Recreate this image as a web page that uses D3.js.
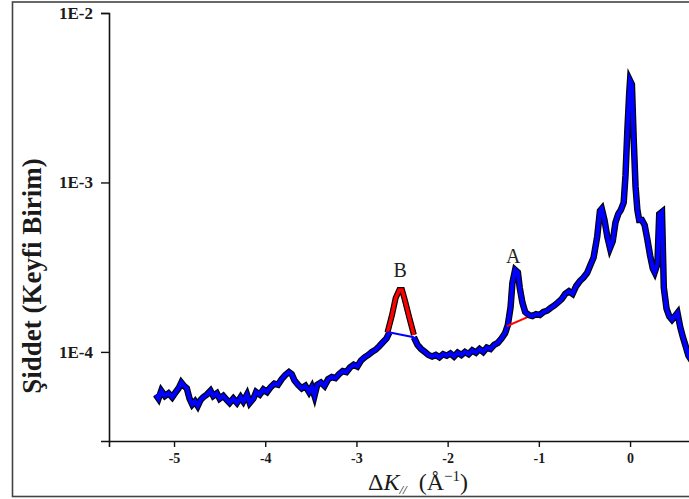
<!DOCTYPE html>
<html><head><meta charset="utf-8">
<script src="https://cdn.jsdelivr.net/npm/d3@7/dist/d3.min.js"></script>
<style>html,body{margin:0;padding:0;background:#fff;}svg{display:block;}</style>
</head><body>
<svg id="c" width="689" height="499"></svg>
<script>
// ---- data ----
const mainK = [-5.20,-5.17,-5.14,-5.10,-5.06,-5.02,-4.98,-4.95,-4.92,-4.89,-4.86,-4.83,-4.80,-4.77,-4.74,-4.71,-4.68,-4.64,-4.60,-4.57,-4.53,-4.50,-4.46,-4.42,-4.39,-4.35,-4.31,-4.27,-4.24,-4.20,-4.17,-4.13,-4.10,-4.06,-4.02,-3.98,-3.94,-3.90,-3.86,-3.82,-3.78,-3.74,-3.71,-3.68,-3.64,-3.60,-3.56,-3.52,-3.49,-3.46,-3.43,-3.39,-3.35,-3.31,-3.27,-3.23,-3.19,-3.15,-3.11,-3.07,-3.03,-2.99,-2.95,-2.91,-2.87,-2.83,-2.79,-2.75,-2.71,-2.67,-2.64,
  -2.50,
  -2.37,-2.33,-2.29,-2.25,-2.21,-2.17,-2.13,-2.09,-2.05,-2.01,-1.97,-1.93,-1.89,-1.85,-1.81,-1.77,-1.73,-1.69,-1.65,-1.61,-1.57,-1.53,-1.49,-1.45,-1.41,-1.37,-1.34,-1.31,-1.29,-1.26,-1.23,-1.21,-1.18,-1.15,-1.11,-1.07,-1.03,-0.99,-0.95,-0.91,-0.87,-0.83,-0.79,-0.75,-0.71,-0.67,-0.63,-0.59,-0.55,-0.51,-0.47,-0.43,-0.40,-0.36,-0.33,-0.31,-0.28,-0.25,-0.22,-0.19,-0.16,-0.13,-0.10,-0.07,-0.05,-0.03,-0.01,0.00,0.02,0.04,0.06,0.08,0.10,0.13,0.16,0.19,0.22,0.25,0.27,0.30,0.32,0.35,0.37,0.40,0.43,0.46,0.49,0.52,0.55,0.58,0.61,0.64,0.68];
const mainI = [5.6e-5,5.3e-5,5.9e-5,5.5e-5,5.7e-5,5.4e-5,5.8e-5,6.1e-5,6.6e-5,6.3e-5,6.1e-5,5.3e-5,4.9e-5,5.1e-5,4.8e-5,5.2e-5,5.4e-5,5.6e-5,5.9e-5,5.5e-5,5.7e-5,5.3e-5,5.5e-5,5.2e-5,5.0e-5,5.3e-5,5.0e-5,5.4e-5,5.1e-5,5.6e-5,5.0e-5,5.3e-5,5.8e-5,5.6e-5,6.0e-5,5.8e-5,6.2e-5,6.5e-5,6.4e-5,6.9e-5,7.3e-5,7.6e-5,7.4e-5,6.8e-5,6.4e-5,6.1e-5,6.3e-5,5.8e-5,6.2e-5,5.5e-5,6.4e-5,6.6e-5,6.3e-5,6.9e-5,7.1e-5,7.0e-5,7.4e-5,7.7e-5,7.6e-5,8.1e-5,8.4e-5,8.2e-5,8.9e-5,9.3e-5,9.6e-5,1.0e-4,1.03e-4,1.08e-4,1.14e-4,1.2e-4,1.3e-4,
  null,
  1.22e-4,1.1e-4,1.04e-4,1.0e-4,9.6e-5,9.4e-5,9.6e-5,9.3e-5,9.7e-5,9.5e-5,9.8e-5,9.4e-5,9.9e-5,9.6e-5,1.0e-4,9.7e-5,1.02e-4,9.9e-5,1.04e-4,1.0e-4,1.06e-4,1.04e-4,1.1e-4,1.13e-4,1.2e-4,1.29e-4,1.44e-4,1.84e-4,2.55e-4,3.05e-4,2.95e-4,2.4e-4,1.95e-4,1.72e-4,1.65e-4,1.63e-4,1.67e-4,1.65e-4,1.72e-4,1.75e-4,1.82e-4,1.88e-4,1.96e-4,2.05e-4,2.2e-4,2.28e-4,2.2e-4,2.45e-4,2.62e-4,2.75e-4,2.93e-4,3.3e-4,3.6e-4,4.8e-4,6.8e-4,7.0e-4,6.0e-4,4.8e-4,4.1e-4,4.5e-4,5.8e-4,6.5e-4,6.9e-4,7.6e-4,1.1e-3,2.0e-3,3.3e-3,4.0e-3,3.8e-3,1.8e-3,9.5e-4,6.9e-4,6.0e-4,6.0e-4,5.6e-4,4.6e-4,3.7e-4,3.1e-4,2.95e-4,3.3e-4,6.5e-4,6.7e-4,2.4e-4,1.8e-4,1.62e-4,1.55e-4,1.62e-4,1.7e-4,1.4e-4,1.22e-4,1.08e-4,9.5e-5,8.8e-5];
const peakBK = [-2.66,-2.61,-2.57,-2.53,-2.50,-2.47,-2.42,-2.37];
const peakBI = [1.3e-4,1.65e-4,2.08e-4,2.32e-4,2.32e-4,2.03e-4,1.59e-4,1.26e-4];
const baseBK = [-2.66,-2.37];
const baseBI = [1.31e-4,1.22e-4];
const baseAK = [-1.35,-1.13];
const baseAI = [1.42e-4,1.6e-4];
const peakLabels = ["B","A"];
const peakLabelK = [-2.52,-1.28];
const peakLabelI = [2.75e-4,3.35e-4];
const xTicks = [-5,-4,-3,-2,-1,0];
const yTicks = [1e-2,1e-3,1e-4];
const yTickLabels = ["1E-2","1E-3","1E-4"];

// ---- chart ----
const svg = d3.select("#c");
const serif = "'Liberation Serif','Times New Roman',serif";

svg.append("rect").attr("x",12.5).attr("y",2).attr("width",700).attr("height",494.5)
  .attr("fill","none").attr("stroke","#444").attr("stroke-width",1.6);

const x = d3.scaleLinear().domain([-5.713,0.7]).range([109,693.9]);
const y = d3.scaleLog().domain([2.98e-5,1e-2]).range([441,13]);

// minor ticks
const yMinor = [];
[1e-5,1e-4,1e-3].forEach(d=>{for(let m=2;m<=9;m++){const v=m*d; if(v>=2.98e-5 && v<1e-2) yMinor.push(v);}});
const xMinor = d3.range(-5.5,0.8,1);

const axY = svg.append("g").attr("transform","translate(109,0)");
axY.call(d3.axisLeft(y).tickValues(yMinor).tickSize(4).tickFormat(""));
axY.call(d3.axisLeft(y).tickValues(yTicks).tickSize(8).tickFormat((d,i)=>yTickLabels[i]).tickPadding(8));
axY.selectAll(".domain").attr("stroke","#111").attr("stroke-width",1.6);
axY.selectAll("line").attr("stroke","#111").attr("stroke-width",1.4);
axY.selectAll("text").style("font-family",serif).style("font-weight","bold").style("font-size","17px").attr("fill","#1a1a1a");

const axX = svg.append("g").attr("transform","translate(0,441)");
axX.call(d3.axisBottom(x).tickValues(xMinor).tickSize(4).tickFormat(""));
axX.call(d3.axisBottom(x).tickValues(xTicks).tickSize(6).tickFormat(d=>String(d)).tickPadding(6));
axX.selectAll(".domain").attr("stroke","#111").attr("stroke-width",1.6);
axX.selectAll("line").attr("stroke","#111").attr("stroke-width",1.4);
axX.selectAll("text").style("font-family",serif).style("font-weight","bold").style("font-size","14px").attr("fill","#1a1a1a");

// data
const mainData = mainK.map((k,i)=>({k, v: mainI[i]}));
const line = d3.line().defined(d=>d.v!=null).x(d=>x(d.k)).y(d=>y(d.v));
const pb = peakBK.map((k,i)=>({k,v:peakBI[i]}));
const bb = baseBK.map((k,i)=>({k,v:baseBI[i]}));
const ba = baseAK.map((k,i)=>({k,v:baseAI[i]}));

const g = svg.append("g");
g.append("path").datum(mainData).attr("d",line).attr("fill","none").attr("stroke","#000").attr("stroke-width",6.5).attr("stroke-linejoin","miter");
g.append("path").datum(pb).attr("d",line).attr("fill","none").attr("stroke","#000").attr("stroke-width",6);
g.append("path").datum(mainData).attr("d",line).attr("fill","none").attr("stroke","#0000ff").attr("stroke-width",4.2).attr("stroke-linejoin","miter");
g.append("path").datum(pb).attr("d",line).attr("fill","none").attr("stroke","#ff0000").attr("stroke-width",3.6);
g.append("path").datum(bb).attr("d",line).attr("fill","none").attr("stroke","#0000ff").attr("stroke-width",2);
g.append("path").datum(ba).attr("d",line).attr("fill","none").attr("stroke","#ff0000").attr("stroke-width",2);

// peak labels
svg.selectAll(".pl").data(peakLabels).enter().append("text")
  .attr("x",(d,i)=>x(peakLabelK[i])).attr("y",(d,i)=>y(peakLabelI[i]))
  .attr("text-anchor","middle").style("font-family",serif).style("font-size","20px").attr("fill","#222").text(d=>d);

// axis titles
svg.append("text").attr("transform","translate(41,276) rotate(-90)").attr("text-anchor","middle")
  .style("font-family",serif).style("font-weight","bold").style("font-size","27px").attr("fill","#1a1a1a")
  .text("Şiddet (Keyfi Birim)");

const xt = svg.append("text").attr("x",418).attr("y",490).attr("text-anchor","middle")
  .style("font-family",serif).style("font-size","24px").attr("fill","#1a1a1a");
xt.append("tspan").text("Δ");
xt.append("tspan").style("font-style","italic").text("K");
xt.append("tspan").style("font-style","italic").style("font-size","13px").attr("dy",4).text("//");
xt.append("tspan").attr("dy",-4).text("\u00a0\u00a0(Å");
xt.append("tspan").style("font-size","15px").attr("dy",-9).text("−1");
xt.append("tspan").attr("dy",9).text(")");
</script>
</body></html>
